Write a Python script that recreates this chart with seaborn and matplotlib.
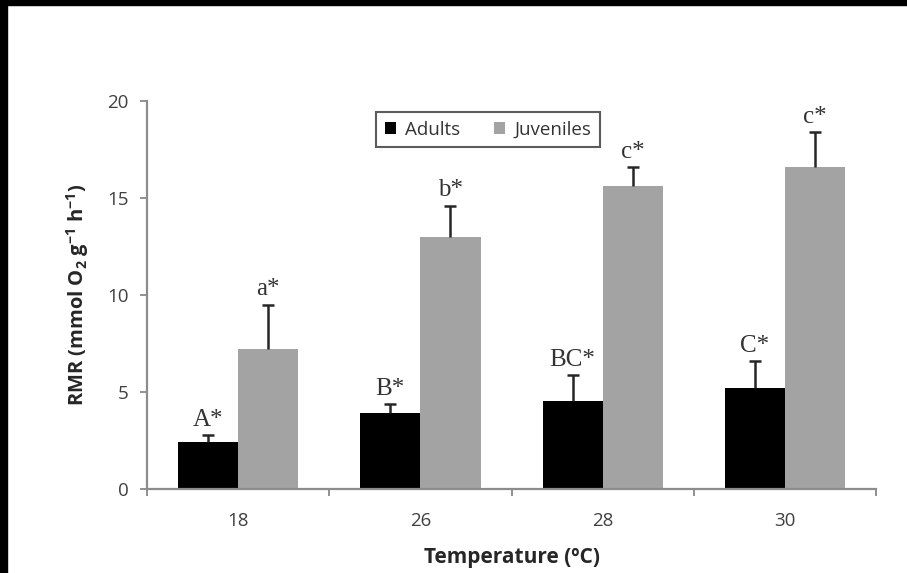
import numpy as np
import pandas as pd
import matplotlib.pyplot as plt
import seaborn as sns
from matplotlib.patches import Rectangle
from matplotlib.ticker import FixedLocator

# data
temps = ["18", "26", "28", "30"]
adults = [2.4, 3.9, 4.55, 5.2]
adults_se = [0.35, 0.45, 1.3, 1.4]
juveniles = [7.2, 13.0, 15.6, 16.6]
juveniles_se = [2.3, 1.6, 1.0, 1.8]
adult_labels = ["A*", "B*", "BC*", "C*"]
juv_labels = ["a*", "b*", "c*", "c*"]

df = pd.DataFrame({
    "Temperature": temps * 2,
    "RMR": adults + juveniles,
    "SE": adults_se + juveniles_se,
    "Group": ["Adults"] * 4 + ["Juveniles"] * 4,
    "Label": adult_labels + juv_labels,
})

sns.set_style("white")
plt.rcParams["font.family"] = ["Open Sans", "DejaVu Sans"]
plt.rcParams["mathtext.fontset"] = "custom"
plt.rcParams["mathtext.rm"] = "Open Sans:bold"
plt.rcParams["mathtext.it"] = "Open Sans:bold"
plt.rcParams["mathtext.bf"] = "Open Sans:bold"

fig = plt.figure(figsize=(9.07, 5.73), dpi=100, facecolor="white")
ax = fig.add_axes([0.162, 0.147, 0.804, 0.677])

sns.barplot(data=df, x="Temperature", y="RMR", hue="Group",
            palette={"Adults": "black", "Juveniles": "#a3a3a3"},
            width=0.66, gap=0, errorbar=None, ax=ax, linewidth=0)

# error bars (upper side only) + letters on top of each bar
for cont, grp in zip(ax.containers, ["Adults", "Juveniles"]):
    sub = df[df["Group"] == grp]
    xs = [p.get_x() + p.get_width() / 2 for p in cont.patches]
    ys = sub["RMR"].values
    es = sub["SE"].values
    eb = ax.errorbar(xs, ys, yerr=[np.zeros(len(es)), es], fmt="none",
                     ecolor="#262626", elinewidth=1.8, capsize=4.5, capthick=1.8)
    eb[1][0].set_visible(False)  # drop the cap sitting on the bar top
    for x, y, e, lab in zip(xs, ys, es, sub["Label"].values):
        ax.annotate(lab, (x, y + e), xytext=(0, 3), textcoords="offset points",
                    ha="center", va="bottom", fontsize=18,
                    family="Liberation Serif", color="#333333")

ax.set_ylim(0, 20)
ax.set_xlim(-0.5, 3.5)
ax.set_yticks([0, 5, 10, 15, 20])
ax.xaxis.set_minor_locator(FixedLocator([-0.5, 0.5, 1.5, 2.5, 3.5]))
ax.tick_params(axis="x", which="major", length=0, pad=17, labelsize=13.5,
               labelcolor="#404040")
ax.tick_params(axis="x", which="minor", length=5, width=1.3, color="#888888",
               direction="out", bottom=True)
ax.tick_params(axis="y", length=5, width=1.3, color="#888888", direction="out",
               left=True, labelsize=13.5, labelcolor="#404040", pad=8)

for s in ["top", "right"]:
    ax.spines[s].set_visible(False)
for s in ["left", "bottom"]:
    ax.spines[s].set_color("#8c8c8c")
    ax.spines[s].set_linewidth(1.6)

ax.set_xlabel("Temperature (ºC)", fontsize=15, fontweight="bold",
              color="#262626", labelpad=12)
ax.set_ylabel("RMR (mmol O$_2$ g$^{-1}$ h$^{-1}$)", fontsize=14.5,
              fontweight="bold", color="#262626", labelpad=12)

leg = ax.legend(loc="upper center", bbox_to_anchor=(0.468, 0.995), ncol=2,
                frameon=True, fancybox=False, edgecolor="#333333",
                handlelength=0.6, handleheight=0.6, handletextpad=0.5,
                columnspacing=1.8, fontsize=13.5, borderpad=0.45)
leg.get_frame().set_linewidth(1.5)
for t in leg.get_texts():
    t.set_color("#333333")

# black frame strips at the top and left edges of the image
fig.add_artist(Rectangle((0, 1 - 5 / 573), 1, 5 / 573, transform=fig.transFigure,
                         color="black", zorder=10))
fig.add_artist(Rectangle((0, 0), 7 / 907, 1, transform=fig.transFigure,
                         color="black", zorder=10))

fig.savefig("out.png", dpi=100, facecolor="white")
